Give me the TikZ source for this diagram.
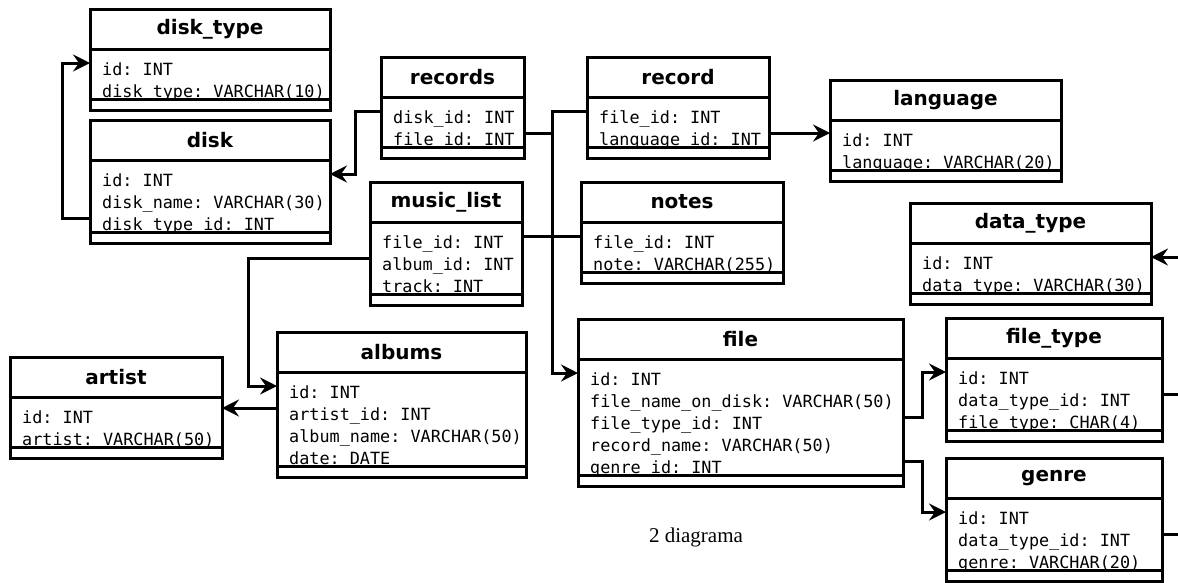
\documentclass[tikz,border=0pt]{standalone}
\usepackage{fontspec}
\setmainfont{Liberation Serif}
\setmonofont{DejaVu Sans Mono}
\newfontfamily\erTitleFont{DejaVu Sans}
\usetikzlibrary{positioning,calc,arrows.meta}

\begin{document}
\begin{tikzpicture}[x=1pt, y=-1pt,
  tbltitle/.style={draw, line width=3pt, inner sep=0pt, outer sep=0pt,
    minimum height=40pt, font=\erTitleFont\bfseries\fontsize{20}{23}\selectfont},
  tblbody/.style={draw, line width=3pt, inner sep=0pt, outer sep=0pt},
  tblfoot/.style={draw, line width=3pt, inner sep=0pt, outer sep=0pt,
    minimum height=11pt},
  tblrow/.style={anchor=west, inner sep=0pt, text height=24pt, text depth=0pt,
    font=\ttfamily\fontsize{16.8}{19}\selectfont},
  fkline/.style={line width=3pt},
  fk/.style={fkline, -{Stealth[length=17pt, width=17pt, inset=6pt]}},
  fkin/.style={fkline, {Stealth[length=17pt, width=17pt, inset=6pt]}-},
  caption/.style={font=\fontsize{21}{24}\selectfont}]

\useasboundingbox (0,0) rectangle (1178,582);
\clip (0,0) rectangle (1178,582);

\def\rowH{22}

% --- TABLE: name, x, y, width, rows, title, fields ---
\def\dbTable#1#2#3#4#5#6#7{%
  \node[tbltitle, minimum width=#4, anchor=north west] (#1-t) at (#2,#3) {#6};
  \pgfmathsetmacro\bodyH{\rowH*#5+6}
  \node[tblbody, minimum width=#4, minimum height=\bodyH, anchor=north]
    (#1-b) at (#1-t.south) {};
  \node[tblfoot, minimum width=#4, anchor=north] (#1-f) at (#1-b.south) {};
  \foreach \fld [count=\i] in {#7} {
    \node[tblrow] (#1-\i) at ($(#1-b.north west)+(12,{14+\rowH*(\i-1)})$) {\fld};
  }
}

% --- TABLES ---
\dbTable{disktype}{90}{9}{240}{2}{disk\_type}
  {id: INT, disk\_type: VARCHAR(10)}
\dbTable{disk}{90}{120}{240}{3}{disk}
  {id: INT, disk\_name: VARCHAR(30), disk\_type\_id: INT}
\dbTable{records}{381}{57}{143}{2}{records}
  {disk\_id: INT, file\_id: INT}
\dbTable{record}{587}{57}{182}{2}{record}
  {file\_id: INT, language\_id: INT}
\dbTable{language}{830}{80}{231}{2}{language}
  {id: INT, language: VARCHAR(20)}
\dbTable{musiclist}{370}{182}{152}{3}{music\_list}
  {file\_id: INT, album\_id: INT, track: INT}
\dbTable{notes}{581}{182}{202}{2}{notes}
  {file\_id: INT, note: VARCHAR(255)}
\dbTable{datatype}{910}{203}{241}{2}{data\_type}
  {id: INT, data\_type: VARCHAR(30)}
\dbTable{artist}{10}{357}{212}{2}{artist}
  {id: INT, artist: VARCHAR(50)}
\dbTable{albums}{277}{332}{249}{4}{albums}
  {id: INT, artist\_id: INT, album\_name: VARCHAR(50), date: DATE}
\dbTable{file}{578}{319}{325}{5}{file}
  {id: INT, file\_name\_on\_disk: VARCHAR(50), file\_type\_id: INT,
   record\_name: VARCHAR(50), genre\_id: INT}
\dbTable{filetype}{946}{318}{216}{3}{file\_type}
  {id: INT, data\_type\_id: INT, file\_type: CHAR(4)}
\dbTable{genre}{946}{458}{216}{3}{genre}
  {id: INT, data\_type\_id: INT, genre: VARCHAR(20)}

% --- RELATIONS ---
\draw[fk] (disk-b.west |- disk-3) -- ++(-28,0) |- (disktype-b.west |- disktype-1);
\draw[fk] (records-b.west |- records-1) -- ++(-26,0) |- (disk-b.east |- disk-1);
\draw[fk] (record-b.west |- record-1) -- ++(-35,0) coordinate (bus)
  |- (file-b.west |- file-1);
\draw[fkline] (records-b.east |- records-2) -- (bus |- records-2);
\draw[fkline] (musiclist-b.east |- musiclist-1) -- (notes-b.west |- notes-1);
\draw[fk] (record-b.east |- record-2) -- (language-b.west |- record-2);
\draw[fk] (musiclist-b.west |- musiclist-2) -- ++(-122,0)
  |- (albums-b.west |- albums-1);
\draw[fk] (albums-b.west |- albums-2) -- (artist-b.east |- albums-2);
\draw[fk] (file-b.east |- file-3) -- ++(19,0) |- (filetype-b.west |- filetype-1);
\draw[fk] (file-b.east |- file-5) -- ++(19,0) |- (genre-b.west |- genre-1);
\draw[fkline] (filetype-b.east |- filetype-2) -- ++(40,0);
\draw[fkline] (genre-b.east |- genre-2) -- ++(40,0);
\draw[fkin] (datatype-b.east |- datatype-1) -- ++(40,0);

% --- CAPTION ---
\node[caption] (cap) at (696,537) {2 diagrama};

\end{tikzpicture}
\end{document}
